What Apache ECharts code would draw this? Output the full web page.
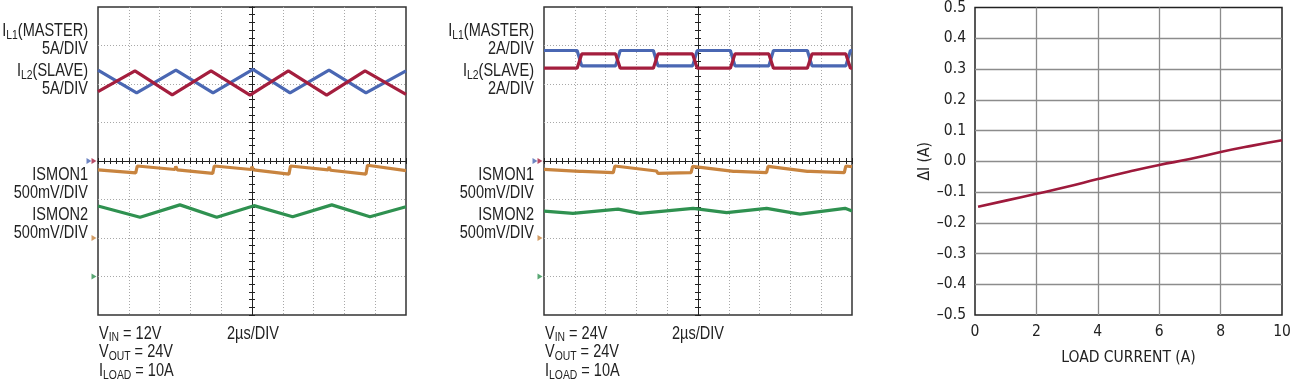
<!DOCTYPE html>
<html><head><meta charset="utf-8">
<script src="https://cdn.jsdelivr.net/npm/echarts@6/dist/echarts.min.js"></script>
<style>html,body{margin:0;padding:0;background:#fff}#c{width:1292px;height:384px}</style>
</head><body><div id="c"></div>
<script>
// ================= DATA =================
// Scope screens: time in µs relative to trigger (2µs/DIV, 10 DIV), amplitude in screen divisions (8 DIV)
const scope1_IL1 = [[-10,2.36],[-7.49,1.77],[-4.94,2.36],[-2.53,1.77],[0.06,2.38],[2.47,1.77],[5.0,2.36],[7.4,1.77],[10,2.34]];
const scope1_IL2 = [[-10,1.80],[-7.6,2.34],[-5.18,1.72],[-2.66,2.34],[-0.13,1.71],[2.36,2.34],[4.85,1.71],[7.34,2.34],[10,1.73]];
const scope1_ISMON1 = [[-10,-0.23],[-7.55,-0.31],[-7.45,-0.13],[-5.0,-0.22],[-4.95,-0.14],[-4.85,-0.23],[-2.55,-0.32],[-2.45,-0.13],[-0.05,-0.22],[0.0,-0.15],[0.1,-0.23],[2.4,-0.34],[2.5,-0.13],[4.95,-0.23],[5.0,-0.15],[5.1,-0.24],[7.4,-0.34],[7.5,-0.11],[10,-0.25]];
const scope1_ISMON2 = [[-10,-1.17],[-7.27,-1.46],[-4.68,-1.14],[-2.29,-1.46],[0.13,-1.16],[2.64,-1.45],[5.18,-1.14],[7.66,-1.45],[10,-1.19]];

const scope2_IL1 = [[-10,2.87],[-7.85,2.87],[-7.55,2.47],[-5.35,2.47],[-5.05,2.87],[-2.9,2.87],[-2.6,2.47],[-0.35,2.47],[-0.05,2.87],[2.1,2.87],[2.4,2.47],[4.6,2.47],[4.9,2.87],[7.1,2.87],[7.4,2.47],[9.6,2.47],[9.9,2.87],[10,2.87]];
const scope2_IL2 = [[-10,2.41],[-7.85,2.41],[-7.55,2.78],[-5.35,2.78],[-5.05,2.41],[-2.9,2.41],[-2.6,2.78],[-0.35,2.78],[-0.05,2.41],[2.1,2.41],[2.4,2.78],[4.6,2.78],[4.9,2.41],[7.1,2.41],[7.4,2.78],[9.6,2.78],[9.9,2.41],[10,2.41]];
const scope2_ISMON1 = [[-10,-0.22],[-7.7,-0.27],[-7.6,-0.32],[-7.5,-0.27],[-5.5,-0.30],[-5.4,-0.13],[-2.7,-0.26],[-2.6,-0.32],[-2.5,-0.27],[-0.45,-0.30],[-0.35,-0.14],[2.3,-0.27],[2.4,-0.31],[2.5,-0.27],[4.45,-0.30],[4.55,-0.14],[7.1,-0.27],[7.2,-0.31],[7.3,-0.27],[9.5,-0.30],[9.6,-0.13],[10,-0.15]];
const scope2_ISMON2 = [[-10,-1.30],[-8.12,-1.36],[-5.19,-1.25],[-3.77,-1.36],[-0.32,-1.23],[1.86,-1.34],[4.46,-1.23],[6.62,-1.38],[9.55,-1.23],[10,-1.30]];

// channel ground markers (division level): IL1, IL2, ISMON1, ISMON2
const groundLevels = [0, 0, -2, -3];

// Channel labels
const scope1Labels = ['{m|I}{s|L1}{m|(MASTER)}','{m|5A/DIV}','{m|I}{s|L2}{m|(SLAVE)}','{m|5A/DIV}','{m|ISMON1}','{m|500mV/DIV}','{m|ISMON2}','{m|500mV/DIV}'];
const scope2Labels = ['{m|I}{s|L1}{m|(MASTER)}','{m|2A/DIV}','{m|I}{s|L2}{m|(SLAVE)}','{m|2A/DIV}','{m|ISMON1}','{m|500mV/DIV}','{m|ISMON2}','{m|500mV/DIV}'];
const scope1Conditions = ['{m|V}{s|IN}{m| = 12V}','{m|V}{s|OUT}{m| = 24V}','{m|I}{s|LOAD}{m| = 10A}'];
const scope2Conditions = ['{m|V}{s|IN}{m| = 24V}','{m|V}{s|OUT}{m| = 24V}','{m|I}{s|LOAD}{m| = 10A}'];
const timeBase = '2µs/DIV';

// ΔI vs load current
const loadCurrent = [0.1, 1, 2, 3, 4, 5, 6, 7, 8, 9, 10];
const deltaI = [-0.148, -0.128, -0.106, -0.083, -0.058, -0.034, -0.012, 0.007, 0.030, 0.050, 0.068];
const xAxisName = 'LOAD CURRENT (A)';
const yAxisName = 'ΔI (A)';

// ================= STYLE / LAYOUT =================
const F = "'Liberation Sans', Arial, sans-serif";
const FC = "'DejaVu Sans Condensed', 'Liberation Sans', sans-serif";
const TXT = '#222';
const C = {IL1:'#4a67b3', IL2:'#a41e3e', ISMON1:'#c8843f', ISMON2:'#2f9150'};
const scopeGrids = [{left:98, top:7, width:308, height:308}, {left:544, top:7, width:308, height:308}];
const rich = {
  m:{fontSize:17.5, fontFamily:F, fill:TXT, lineHeight:20},
  s:{fontSize:12.5, fontFamily:F, fill:TXT, lineHeight:20, padding:[8,0,0,0]}
};
const labelY = [31.5, 49, 71.5, 89, 175, 193.5, 215, 233.5];
const condY = [334, 352.5, 371.5];

const grids = [], xAxes = [], yAxes = [], series = [], graphics = [];

function addScope(idx, g, traces) {
  const gi = grids.length;
  grids.push(Object.assign({show:true, borderColor:'#333', borderWidth:1.5, backgroundColor:'transparent', outerBoundsMode:'none', containLabel:false}, g));
  grids.push(Object.assign({show:false, outerBoundsMode:'none', containLabel:false}, g));
  [false, true].forEach((twin, k) => {
    xAxes.push({gridIndex:gi+k, type:'value', min:-10, max:10, interval:2,
      axisLine:{show:true, onZero:true, lineStyle:{color:'#222', width:1}},
      axisTick:{show:true, inside:twin, length:3, lineStyle:{color:'#222'}},
      minorTick:{show:true, splitNumber:5, length:3, lineStyle:{color:'#222'}},
      axisLabel:{show:false},
      splitLine:{show:!twin, showMinLine:false, showMaxLine:false, lineStyle:{color:'#a8a8a8', type:[1,2], width:1}}});
    yAxes.push({gridIndex:gi+k, type:'value', min:-4, max:4, interval:1,
      axisLine:{show:true, onZero:true, lineStyle:{color:'#222', width:1}},
      axisTick:{show:true, inside:twin, length:3, lineStyle:{color:'#222'}},
      minorTick:{show:true, splitNumber:5, length:3, lineStyle:{color:'#222'}},
      axisLabel:{show:false},
      splitLine:{show:!twin, showMinLine:false, showMaxLine:false, lineStyle:{color:'#a8a8a8', type:[1,2], width:1}}});
  });
  const names = ['IL1','IL2','ISMON1','ISMON2'];
  const markerOffsets = [-9, -4, -4, -4];
  names.forEach((n, i) => {
    series.push({type:'line', xAxisIndex:gi, yAxisIndex:gi, data:traces[i], showSymbol:false, symbol:'none',
      lineStyle:{color:C[n], width:3.2}, itemStyle:{color:C[n]}, z:3, animation:false});
    series.push({type:'scatter', xAxisIndex:gi, yAxisIndex:gi, data:[[-10, groundLevels[i]]], clip:false,
      symbol:'triangle', symbolSize:[6,5], symbolRotate:-90, symbolOffset:[markerOffsets[i], 0],
      itemStyle:{color:C[n]}, z:4, animation:false, silent:true});
  });
}
addScope(0, scopeGrids[0], [scope1_IL1, scope1_IL2, scope1_ISMON1, scope1_ISMON2]);
addScope(1, scopeGrids[1], [scope2_IL1, scope2_IL2, scope2_ISMON1, scope2_ISMON2]);

// line chart
const lg = grids.length;
grids.push({show:true, left:975, top:7.5, width:307, height:307.5, borderColor:'#222', borderWidth:1.5, outerBoundsMode:'none', containLabel:false});
xAxes.push({gridIndex:lg, type:'value', min:0, max:10, interval:2,
  name:xAxisName, nameLocation:'middle', nameGap:35, nameMoveOverlap:false,
  nameTextStyle:{fontFamily:FC, fontSize:15.5, color:TXT},
  axisLine:{show:false}, axisTick:{show:false},
  axisLabel:{fontFamily:FC, fontSize:15.5, color:TXT, margin:9},
  splitLine:{show:true, showMinLine:false, showMaxLine:false, lineStyle:{color:'#8c8c8c', width:1.3}}});
yAxes.push({gridIndex:lg, type:'value', min:-0.5, max:0.5, interval:0.1,
  name:yAxisName, nameLocation:'middle', nameGap:42, nameRotate:90, nameMoveOverlap:false,
  nameTextStyle:{fontFamily:FC, fontSize:15.5, color:TXT},
  axisLine:{show:false}, axisTick:{show:false},
  axisLabel:{fontFamily:FC, fontSize:15.5, color:TXT, margin:9,
    formatter:v => (Math.abs(v) < 1e-9 ? '0.0' : (v < 0 ? '–' + Math.abs(v).toFixed(1) : v.toFixed(1)))},
  splitLine:{show:true, showMinLine:false, showMaxLine:false, lineStyle:{color:'#8c8c8c', width:1.3}}});
series.push({type:'line', xAxisIndex:lg, yAxisIndex:lg, data:loadCurrent.map((x,i)=>[x, deltaI[i]]),
  showSymbol:false, symbol:'none', smooth:true, lineStyle:{color:'#9e1a3c', width:2.6}, z:3, animation:false});

// texts (horizontally condensed to mimic the condensed typeface)
function addLabels(list, x, ys, align) {
  list.forEach((t, i) => graphics.push({type:'text', x:x, y:ys[i], scaleX:0.83, silent:true,
    style:{text:t, rich:rich, align:align, verticalAlign:'middle', fontFamily:F, fontSize:17.5, fill:TXT}}));
}
addLabels(scope1Labels, 88, labelY, 'right');
addLabels(scope2Labels, 534, labelY, 'right');
addLabels(scope1Conditions, 99, condY, 'left');
addLabels(scope2Conditions, 545, condY, 'left');
addLabels(['{m|' + timeBase + '}'], 227, [334], 'left');
addLabels(['{m|' + timeBase + '}'], 672, [334], 'left');

const chart = echarts.init(document.getElementById('c'), null, {renderer:'canvas'});
chart.setOption({animation:false, backgroundColor:'#fff', grid:grids, xAxis:xAxes, yAxis:yAxes, series:series, graphic:graphics});
</script></body></html>
